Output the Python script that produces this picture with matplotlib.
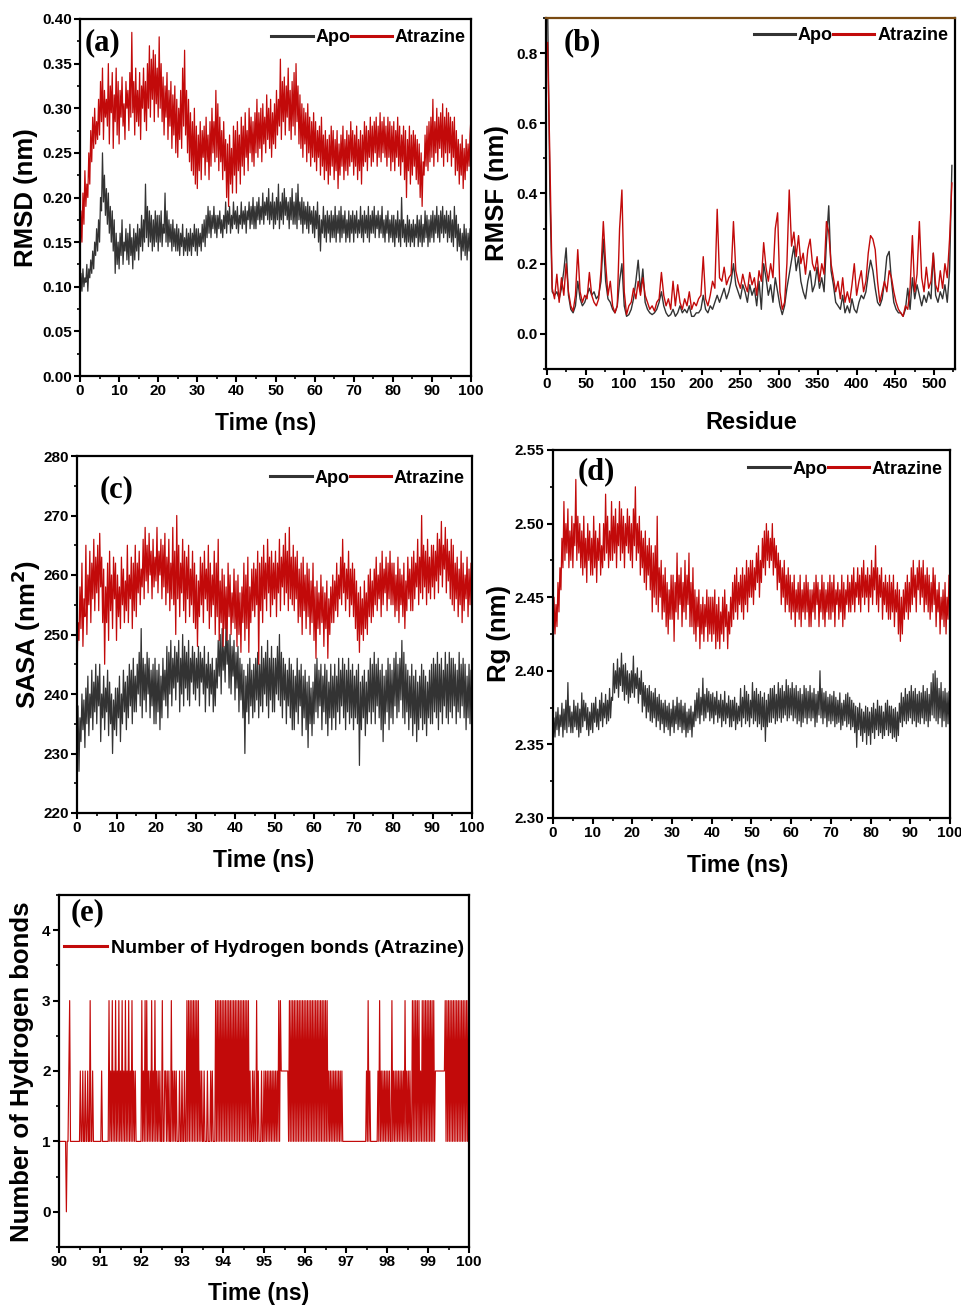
import numpy as np
import matplotlib
matplotlib.use('Agg')
import matplotlib.pyplot as plt
from matplotlib.ticker import MultipleLocator, FormatStrFormatter

plt.rcParams['font.family'] = ['Liberation Sans', 'DejaVu Sans']
plt.rcParams['font.weight'] = 'bold'
plt.rcParams['axes.labelweight'] = 'bold'

RED = '#C20A0A'
BLACK = '#333333'


def vals(s):
    return np.array(s.split(), dtype=float)


# ---------- (a) RMSD in nm x 1000, 0..100 ns every 0.25 ns ----------
rmsd_atz = vals("""
120 185 150 205 170 230 190 215 200 250 215 275 240 290 255 300 260 285 265 310
270 330 285 345 265 320 290 310 280 350 260 325 295 340 255 315 285 345 270 330
260 320 290 335 280 305 265 330 300 320 275 340 290 385 295 330 270 345 285 320
280 340 265 325 300 345 285 330 275 350 300 370 290 355 310 365 285 360 305 345
290 380 300 350 285 335 270 325 290 340 265 320 280 330 255 315 270 325 250 310
245 300 265 320 255 345 280 365 270 320 250 310 240 295 230 285 225 300 215 280
210 270 230 285 220 275 245 280 225 290 240 270 220 285 235 300 250 285 240 320
245 305 230 290 240 275 220 285 230 265 200 260 190 270 215 255 205 280 225 275
205 285 230 270 215 290 235 280 225 295 245 275 230 300 250 290 240 285 235 295
250 310 245 295 255 300 240 305 260 290 250 315 265 300 255 310 245 295 260 305
255 320 270 310 280 355 265 330 285 335 270 325 290 345 275 320 265 330 280 340
270 350 285 325 260 315 255 305 245 300 260 295 240 305 250 290 235 285 245 295
240 285 230 275 245 280 225 290 235 270 220 275 230 265 215 270 225 280 235 275
220 265 230 275 210 260 225 270 235 280 220 265 230 275 225 270 235 285 240 275
225 270 235 280 220 265 230 275 215 270 235 285 240 280 230 275 245 290 235 280
240 285 250 290 235 280 245 295 240 285 250 290 245 280 235 290 245 285 230 280
240 285 230 275 245 290 235 280 225 270 240 280 220 275 200 265 230 280 215 270
225 275 235 270 220 265 215 260 200 250 190 240 225 270 235 280 230 285 240 290
245 310 235 285 250 300 240 290 255 295 245 305 235 290 250 300 240 295 250 290
235 285 245 290 225 275 230 265 215 260 225 270 210 255 220 265 230 260 235 270
290
""")
rmsd_apo = vals("""
80 115 95 120 100 110 105 125 95 120 110 130 115 140 120 150 135 165 140 175
150 200 185 250 195 225 180 210 170 205 160 190 150 185 140 175 115 160 125 150
120 160 135 175 125 150 140 165 130 160 125 170 135 155 120 165 130 160 140 170
130 165 145 180 140 175 150 215 155 190 145 185 150 180 140 175 145 185 150 180
140 180 150 185 145 170 160 205 150 185 145 175 150 170 140 175 145 165 140 170
140 165 135 160 145 170 135 155 140 165 135 160 140 165 135 160 145 170 140 165
135 165 145 160 140 170 150 175 145 180 155 190 160 185 155 180 165 190 160 180
155 180 165 185 160 175 155 180 165 195 160 185 170 190 160 180 165 195 170 185
165 190 160 180 170 195 165 185 170 190 160 185 175 195 165 190 170 200 165 190
165 195 175 200 170 190 175 205 170 195 180 200 175 210 170 195 175 205 165 195
170 200 175 215 165 195 175 205 170 210 180 200 175 195 165 200 175 210 170 195
170 205 165 215 175 195 170 200 160 195 170 190 165 195 160 190 170 185 160 190
155 185 165 195 150 180 140 175 160 190 155 180 150 185 160 180 150 185 155 180
155 190 150 180 160 185 150 190 155 180 160 185 150 175 155 185 150 180 160 185
150 180 160 185 155 175 160 190 155 180 150 185 160 180 155 190 150 180 160 185
160 190 155 180 165 185 155 180 160 190 155 175 150 180 160 185 150 175 155 180
150 180 145 175 155 185 150 175 145 200 155 175 150 170 145 180 150 175 145 170
150 175 145 170 155 180 145 175 150 180 145 170 150 185 155 180 145 175 150 180
155 185 150 180 160 190 155 180 150 185 160 190 155 180 160 185 150 180 155 185
150 175 145 190 155 180 140 170 145 165 130 160 140 170 135 165 130 160 140 165
165
""")

# ---------- (b) RMSF in nm x 1000, residues 1, 4, 7, ... ----------
rmsf_atz = [830, 500, 130, 100, 170, 90, 160, 110, 200, 120,
            80, 65, 110, 240, 120, 90, 110, 100, 175, 110,
            90, 80, 100, 180, 320, 200, 110, 150, 80, 60,
            80, 300, 410, 120, 55, 80, 90, 130, 100, 150,
            110, 160, 110, 90, 70, 80, 65, 90, 100, 175,
            110, 80, 100, 70, 150, 80, 140, 90, 70, 100,
            80, 120, 70, 90, 80, 100, 110, 220, 100, 80,
            110, 150, 130, 355, 160, 150, 190, 140, 160, 170,
            320, 180, 150, 130, 170, 140, 120, 175, 140, 160,
            110, 180, 150, 260, 190, 150, 200, 160, 300, 345,
            120, 70, 90, 200, 410, 250, 290, 220, 280, 200,
            230, 170, 240, 270, 200, 180, 220, 150, 200, 170,
            320, 290, 200, 160, 120, 150, 100, 160, 90, 120,
            90, 140, 200, 110, 150, 180, 120, 150, 230, 280,
            270, 240, 150, 90, 120, 150, 120, 180, 160, 120,
            90, 70, 60, 50, 80, 70, 130, 280, 120, 170,
            320, 160, 120, 190, 130, 150, 230, 140, 120, 180,
            130, 200, 160, 270, 430]
rmsf_apo = [950, 400, 120, 110, 120, 100, 130, 180, 245, 110,
            70, 60, 80, 150, 100, 80, 90, 110, 130, 110,
            120, 100, 110, 150, 270, 150, 100, 90, 70, 60,
            80, 150, 200, 80, 50, 55, 70, 100, 150, 210,
            120, 185, 90, 70, 60, 55, 60, 70, 90, 120,
            80, 60, 50, 55, 70, 50, 60, 80, 60, 70,
            60, 80, 50, 50, 60, 60, 70, 110, 70, 60,
            80, 70, 90, 110, 90, 110, 130, 100, 120, 150,
            200, 140, 120, 100, 140, 120, 90, 140, 110, 130,
            80, 150, 70, 200, 160, 110, 140, 90, 160, 120,
            80, 55, 80, 130, 170, 210, 250, 180, 220, 150,
            120, 100, 150, 180, 120, 140, 190, 130, 160, 120,
            260, 365, 180, 140, 90, 80, 70, 110, 60, 80,
            60, 100, 70, 60, 90, 110, 100, 120, 170, 210,
            180, 130, 90, 80, 100, 150, 220, 235, 150, 90,
            70, 60, 60, 50, 70, 130, 70, 160, 100, 140,
            110, 80, 110, 90, 120, 100, 230, 110, 90, 120,
            100, 140, 90, 180, 480]

# ---------- (c) SASA in nm^2, 0..100 ns every 0.25 ns ----------
sasa_atz = vals("""
244 252 249 258 251 262 248 256 253 265 250 260 255 264 252 262 256 266 254 263
257 265 254 267 258 263 252 261 245 258 252 262 249 264 254 260 251 263 256 262
249 260 253 258 251 263 255 261 252 259 254 265 252 260 256 263 251 262 254 265
253 262 257 264 255 261 258 266 256 268 259 265 257 267 260 264 256 266 258 263
259 268 257 264 260 266 256 265 258 267 255 263 257 266 254 262 256 268 255 264
250 270 256 265 253 262 257 266 254 264 252 263 256 265 253 261 255 264 252 262
251 260 248 259 253 263 255 262 252 264 256 261 254 265 251 262 253 260 255 264
250 262 253 266 249 259 252 261 248 260 251 258 249 262 253 260 250 257 252 261
251 259 248 260 250 257 247 258 252 262 249 260 251 263 247 258 252 261 254 262
253 261 255 264 245 262 254 263 252 265 256 262 254 266 257 263 253 264 255 262
256 264 253 262 257 266 254 263 258 265 255 267 257 264 254 268 256 263 255 265
254 263 256 264 252 261 253 262 250 263 254 260 251 262 253 261 250 259 252 262
249 258 246 259 251 257 250 260 252 258 248 257 251 259 246 256 250 258 252 260
252 259 254 262 253 260 256 263 255 266 257 262 254 261 256 264 253 261 255 262
253 261 251 259 249 257 247 258 250 256 249 259 251 257 250 260 253 261 252 259
253 261 255 263 254 260 256 262 253 264 255 261 257 263 254 262 256 264 255 262
255 262 253 260 254 263 252 261 255 260 253 262 251 259 254 263 256 261 254 263
254 264 256 262 258 266 255 263 257 270 256 265 258 264 255 266 257 263 256 265
258 265 256 264 259 267 257 266 260 269 258 265 261 268 257 266 259 264 256 266
255 265 254 262 256 263 253 261 255 264 252 262 254 260 256 263 253 261 255 262
258
""")
sasa_apo = vals("""
230 238 227 236 232 240 234 239 231 241 235 243 233 240 236 244 234 242 237 245
235 243 238 245 232 240 236 243 234 241 237 244 233 242 235 240 230 239 234 241
233 241 236 243 232 240 235 244 237 242 234 243 236 245 238 244 235 246 237 243
237 245 240 247 238 251 236 246 239 245 237 247 240 246 236 244 238 245 235 246
235 244 237 245 234 243 236 246 239 244 238 248 236 247 240 249 238 246 241 248
239 247 242 249 237 246 240 250 238 248 241 247 239 249 238 246 242 248 240 247
239 246 241 248 238 247 242 246 240 248 237 245 241 247 238 245 240 246 237 244
238 246 241 249 243 250 240 251 244 248 242 253 245 249 241 250 240 248 243 249
239 247 241 248 237 246 239 245 236 244 230 243 237 245 235 246 238 244 236 245
237 246 239 247 236 245 238 248 237 246 240 247 238 249 236 246 239 248 237 246
237 246 240 248 239 250 238 247 236 246 239 245 235 244 238 246 236 245 234 244
234 243 237 246 235 244 238 245 233 243 236 244 234 242 231 243 235 241 233 242
235 245 237 246 236 244 238 245 234 243 237 245 235 244 233 242 236 245 234 243
236 245 234 243 237 246 235 244 238 246 236 245 234 244 237 246 235 244 236 245
234 243 236 244 235 245 228 242 234 243 236 244 233 242 235 244 237 246 235 245
237 247 235 245 238 246 236 244 234 245 232 243 235 244 237 246 234 245 236 244
235 246 238 247 236 245 237 246 239 249 236 247 235 245 237 244 234 243 236 245
233 243 235 244 232 242 234 243 236 245 234 244 235 243 233 242 236 244 235 245
235 246 237 245 236 247 234 245 237 246 235 244 238 247 236 245 235 247 237 246
236 246 238 245 235 244 237 247 236 245 238 246 236 245 234 243 236 245 235 244
240
""")

# ---------- (d) Rg: (value - 2 nm) x 1000, 0..100 ns every 0.25 ns ----------
rg_atz = vals("""
410 450 425 445 430 460 440 470 455 490 470 515 475 500 480 510 470 495 475 505
470 500 485 530 475 505 480 500 470 495 465 505 470 490 460 500 475 495 465 490
465 505 470 495 460 490 475 500 465 485 470 500 475 520 480 505 470 495 475 515
475 505 480 510 470 500 485 515 475 510 480 505 470 500 485 510 480 505 475 500
470 510 485 525 475 500 480 505 465 495 470 490 460 495 455 485 465 490 455 485
440 480 450 485 445 505 440 470 450 475 435 465 440 470 430 460 425 455 435 465
435 465 420 460 440 480 435 465 445 470 430 460 440 475 435 465 445 480 430 460
430 470 425 455 420 450 430 455 415 445 425 450 420 445 430 455 420 450 425 450
420 450 425 455 415 445 420 450 415 440 425 450 420 455 430 445 415 440 425 450
430 460 435 465 440 470 435 460 445 465 440 470 435 465 445 475 440 470 450 475
450 475 445 470 455 480 460 485 450 475 460 490 470 495 465 500 475 495 470 490
475 500 465 490 470 485 455 480 460 475 445 470 450 475 440 465 445 470 440 465
435 460 440 465 430 455 440 460 435 465 430 455 440 460 435 465 440 460 430 455
430 455 440 460 435 465 445 460 430 455 440 465 435 460 430 455 440 460 435 465
435 460 440 465 430 455 445 460 435 455 440 465 430 460 435 455 445 465 440 460
440 465 445 470 440 460 450 470 445 465 440 470 450 475 445 465 450 470 440 465
450 475 445 470 455 485 445 470 440 465 450 470 435 460 445 465 440 460 435 465
435 460 440 465 430 455 440 460 425 455 420 450 425 455 435 460 440 465 435 460
440 470 445 475 450 465 440 470 455 475 445 470 450 475 440 465 445 470 440 465
435 460 440 470 445 465 430 455 440 460 425 450 435 455 430 460 425 450 435 465
440
""")
rg_apo = vals("""
350 368 355 372 360 375 356 370 362 378 355 374 360 380 358 392 362 376 358 372
358 380 362 376 360 378 355 374 358 385 362 380 366 378 360 375 356 372 360 378
358 378 365 382 362 374 360 380 366 385 362 378 368 384 364 380 366 388 368 382
380 405 385 400 388 408 382 402 390 412 386 404 380 405 384 400 378 398 382 400
385 410 382 398 388 402 378 395 384 400 372 392 376 390 368 388 372 390 366 386
365 385 368 388 362 382 366 384 360 380 364 378 358 380 362 376 360 378 356 374
362 380 358 376 364 382 360 378 362 380 358 376 360 378 355 372 358 374 360 376
355 372 362 380 366 385 368 388 364 382 370 395 366 384 368 388 372 386 366 384
368 385 364 382 370 386 365 380 368 384 362 380 366 386 364 378 368 383 362 380
362 380 366 382 360 378 364 376 366 388 362 382 368 390 364 386 366 384 362 380
368 392 364 386 366 388 362 384 364 386 360 382 362 385 352 380 362 384 365 388
365 388 368 390 364 384 366 392 368 388 365 390 368 386 370 394 366 390 368 388
370 392 366 388 368 390 364 386 366 388 362 384 365 390 368 388 364 386 368 390
366 385 368 388 362 384 365 386 370 400 368 388 364 385 368 386 362 382 366 384
364 383 366 386 362 382 364 380 365 385 360 378 363 380 366 384 362 385 364 382
360 380 362 378 358 376 348 375 360 378 356 374 352 372 358 376 350 375 356 372
350 375 358 378 354 374 360 380 356 376 358 376 354 372 356 378 360 380 356 376
358 376 354 374 355 375 352 372 356 378 365 385 362 382 366 388 364 384 366 386
368 390 364 386 366 388 362 384 365 386 364 385 368 390 364 386 366 388 362 384
366 392 370 398 368 400 366 395 364 388 368 392 362 386 366 388 362 385 364 386
360
""")

# ---------- (e) H-bonds, 90..100 ns every 0.02 ns ----------
hbond_str = (
    "11111 11110 11231 11111 11111 12112 11211 21131 12111 11111 "
    "11211 11111 13121 31213 12131 21312 13121 31213 12121 11111 "
    "13121 31312 12131 21312 12121 13112 21212 11312 12121 11211 "
    "21121 13131 31313 13131 31212 11211 12111 21211 13131 31313 "
    "13131 31313 13131 31313 13131 31313 13121 12121 13121 11211 "
    "21212 12121 21212 12131 32222 22222 13131 31313 13131 31313 "
    "13131 31313 13131 31313 13131 31312 12121 21212 12121 21111 "
    "11111 11111 11111 11111 11111 21312 11111 11112 13121 21212 "
    "12121 13121 21212 12121 21312 12121 13131 31313 12131 31313 "
    "13131 31312 22222 22222 23131 31313 13131 31313 13131 31313"
)
hbonds = [int(c) for c in hbond_str.replace(' ', '')]

W, H = 962, 1307
fig = plt.figure(figsize=(W / 100, H / 100), dpi=100)


def axes_px(l, r, t, b):
    return fig.add_axes([l / W, 1 - b / H, (r - l) / W, (b - t) / H])


def style(ax, xmaj, xmin, ymaj, ymin, yfmt):
    for s in ax.spines.values():
        s.set_linewidth(1.6)
        s.set_color('black')
    ax.xaxis.set_major_locator(MultipleLocator(xmaj))
    ax.xaxis.set_minor_locator(MultipleLocator(xmin))
    ax.yaxis.set_major_locator(MultipleLocator(ymaj))
    ax.yaxis.set_minor_locator(MultipleLocator(ymin))
    ax.yaxis.set_major_formatter(FormatStrFormatter(yfmt))
    ax.tick_params(which='major', direction='out', length=4, width=1.5,
                   labelsize=11, pad=2, top=False, right=False)
    ax.tick_params(which='minor', direction='out', length=2.5, width=1.2,
                   top=False, right=False)


def labels(ax, xl, xl_pos, yl, yl_pos, xs=16.5, ys=18.5):
    ax.set_xlabel(xl, fontsize=xs, fontweight='bold')
    ax.set_ylabel(yl, fontsize=ys, fontweight='bold')
    ax.xaxis.set_label_coords(*xl_pos)
    ax.yaxis.set_label_coords(*yl_pos)
    ax.xaxis.label.set_verticalalignment('center')
    ax.yaxis.label.set_verticalalignment('center')


def panel(ax, txt, x, y):
    ax.text(x, y, txt, transform=ax.transAxes, fontfamily='Liberation Serif',
            fontweight='bold', fontsize=22, ha='left', va='center')


def legend2(ax, x, y):
    h1, = ax.plot([], [], color=BLACK, lw=2.2, label='Apo')
    h2, = ax.plot([], [], color=RED, lw=2.2, label='Atrazine')
    ax.legend(handles=[h1, h2], loc='center right', bbox_to_anchor=(x, y),
              ncol=2, frameon=False, fontsize=13, handlelength=2.3,
              handletextpad=0.15, columnspacing=0.0, borderaxespad=0,
              borderpad=0)


LW = 0.9


def tgrid(a):
    return np.linspace(0, 100, len(a))


# (a)
ax = axes_px(80, 471, 19, 376)
ax.plot(tgrid(rmsd_apo), rmsd_apo / 1000, color=BLACK, lw=LW)
ax.plot(tgrid(rmsd_atz), rmsd_atz / 1000, color=RED, lw=LW)
ax.set_xlim(0, 100)
ax.set_ylim(0, 0.40)
style(ax, 10, 5, 0.05, 0.025, '%.2f')
labels(ax, 'Time (ns)', (0.476, -0.132), 'RMSD (nm)', (-0.138, 0.5))
panel(ax, '(a)', 0.013, 0.933)
legend2(ax, 0.987, 0.947)

# (b)
ax = axes_px(546, 955, 18, 369)
res = np.arange(len(rmsf_apo)) * 3 + 1
ax.plot(res, np.array(rmsf_apo) / 1000, color=BLACK, lw=1.0)
ax.plot(res, np.array(rmsf_atz) / 1000, color=RED, lw=1.0)
ax.set_xlim(-1, 527)
ax.set_ylim(-0.1, 0.9)
style(ax, 50, 25, 0.2, 0.1, '%.1f')
ax.spines['top'].set_color('#7a4a12')
labels(ax, 'Residue', (0.501, -0.151), 'RMSF (nm)', (-0.12, 0.501), xs=17)
panel(ax, '(b)', 0.042, 0.929)
legend2(ax, 0.983, 0.949)

# (c)
ax = axes_px(77, 472, 456, 813)
ax.plot(tgrid(sasa_apo), sasa_apo, color=BLACK, lw=LW)
ax.plot(tgrid(sasa_atz), sasa_atz, color=RED, lw=LW)
ax.set_xlim(0, 100)
ax.set_ylim(220, 280)
style(ax, 10, 5, 10, 5, '%d')
labels(ax, 'Time (ns)', (0.473, -0.134), 'SASA (nm$^{\\mathbf{2}}$)', (-0.129, 0.499))
panel(ax, '(c)', 0.058, 0.905)
legend2(ax, 0.982, 0.938)

# (d)
ax = axes_px(553, 950, 450, 818)
ax.plot(tgrid(rg_apo), 2 + rg_apo / 1000, color=BLACK, lw=LW)
ax.plot(tgrid(rg_atz), 2 + rg_atz / 1000, color=RED, lw=LW)
ax.set_xlim(0, 100)
ax.set_ylim(2.30, 2.55)
style(ax, 10, 5, 0.05, 0.025, '%.2f')
labels(ax, 'Time (ns)', (0.466, -0.128), 'Rg (nm)', (-0.136, 0.5))
panel(ax, '(d)', 0.063, 0.940)
legend2(ax, 0.982, 0.948)

# (e)
ax = axes_px(59, 469, 895, 1247)
th = np.linspace(90, 100, len(hbonds), endpoint=False)
ax.plot(th, hbonds, color=RED, lw=0.85)
ax.set_xlim(90, 100)
ax.set_ylim(-0.5, 4.5)
style(ax, 1, 0.5, 1, 0.5, '%d')
labels(ax, 'Time (ns)', (0.488, -0.131), 'Number of Hydrogen bonds', (-0.09, 0.497))
panel(ax, '(e)', 0.029, 0.949)
h, = ax.plot([], [], color=RED, lw=2.2, label='Number of Hydrogen bonds (Atrazine)')
ax.legend(handles=[h], loc='center left', bbox_to_anchor=(0.012, 0.849),
          frameon=False, fontsize=14, handlelength=2.2, handletextpad=0.2,
          borderaxespad=0, borderpad=0)

fig.savefig('out.png', dpi=100)
